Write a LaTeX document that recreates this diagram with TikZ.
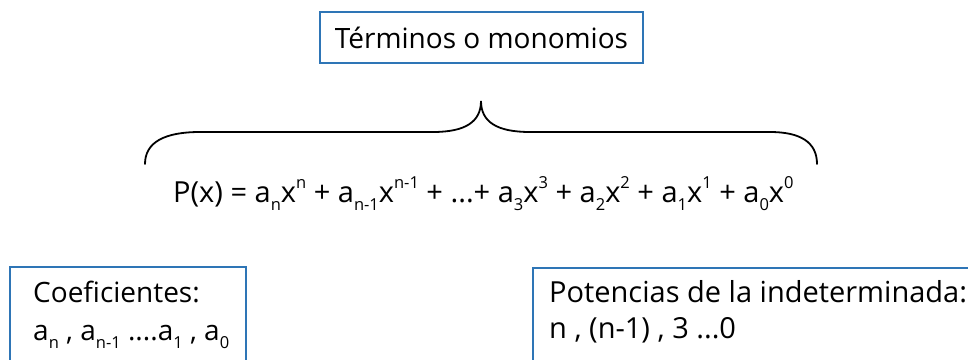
\documentclass[tikz,border=0pt]{standalone}
\usepackage{fontspec}
\setmainfont{Open Sans}
\definecolor{boxblue}{RGB}{46,117,182}
\newcommand\sbx[1]{\raisebox{-8pt}{\fontsize{16.5}{16.5}\selectfont #1}}
\newcommand\spx[1]{\raisebox{14pt}{\fontsize{16.5}{16.5}\selectfont #1}}
\tikzset{
  bluebox/.style={draw=boxblue, line width=2pt},
  txt/.style={inner sep=0pt, anchor=base west, font=\fontsize{28}{34}\selectfont},
  bigtxt/.style={txt, font=\fontsize{29}{35}\selectfont},
}
\begin{document}
\begin{tikzpicture}[x=1pt,y=-1pt]
\useasboundingbox (0,0) rectangle (968,359);
\clip (0,0) rectangle (968,359);
% top box
\node[bluebox, minimum width=323pt, minimum height=51pt, inner sep=0pt,
      font=\fontsize{28}{34}\selectfont] (terminos) at (481.5,37.5) {Términos o monomios};
% brace
\draw[line width=1.8pt, line cap=round] (145,164)
   .. controls (145,142) and (165,132) .. (200,132)
   -- (433,132)
   .. controls (465,132) and (481,122) .. (481,101)
   .. controls (481,122) and (497,132) .. (530,132)
   -- (770,132)
   .. controls (800,132) and (817,142) .. (817,164);
% equation
\node[bigtxt] (eq) at (173,202) {P(x) = a\sbx{n}x\spx{n} + a\sbx{n-1}x\spx{n-1} + ...+ a\sbx{3}x\spx{3} + a\sbx{2}x\spx{2} + a\sbx{1}x\spx{1} + a\sbx{0}x\spx{0}};
% bottom boxes
\draw[bluebox] (10,267) rectangle (246,400);
\draw[bluebox] (533,268) rectangle (1000,400);
\node[txt] (coef1) at (33,302) {Coeficientes:};
\node[txt] (coef2) at (33,340) {a\sbx{n} , a\sbx{n-1} ....a\sbx{1} , a\sbx{0}};
\node[bigtxt] (pot1) at (549,302) {Potencias de la indeterminada:};
\node[bigtxt] (pot2) at (549,338) {n , (n-1) , 3 ...0};
\end{tikzpicture}
\end{document}
